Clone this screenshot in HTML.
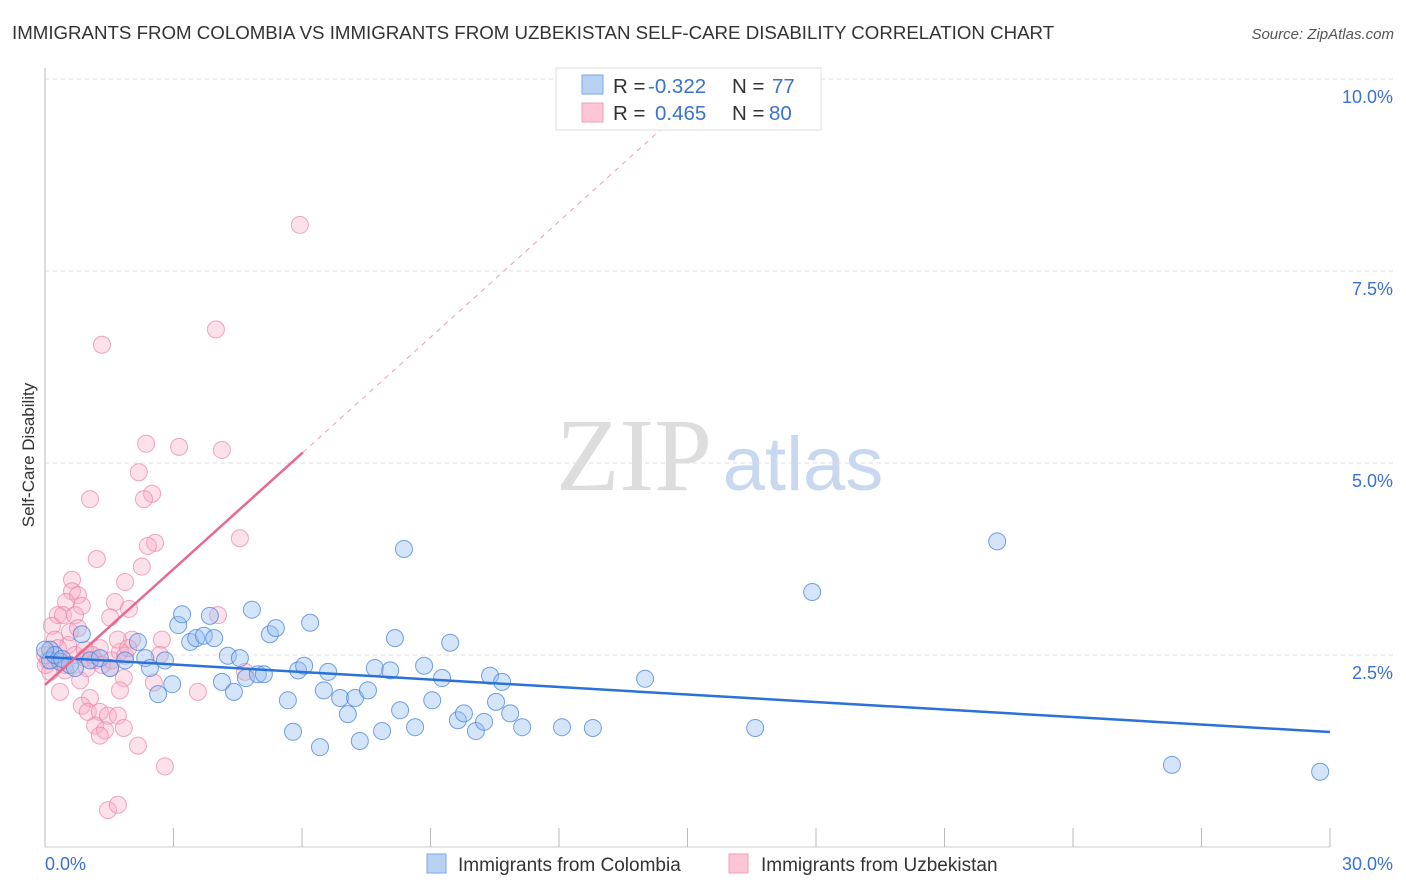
<!DOCTYPE html>
<html><head><meta charset="utf-8"><style>
body{margin:0;background:#fff;font-family:"Liberation Sans",sans-serif;}
svg{display:block}
</style></head><body>
<svg width="1406" height="892" viewBox="0 0 1406 892">
<text x="12" y="39" font-size="18.7" fill="#333">IMMIGRANTS FROM COLOMBIA VS IMMIGRANTS FROM UZBEKISTAN SELF-CARE DISABILITY CORRELATION CHART</text>
<text x="1394" y="39" font-size="15" fill="#555" font-style="italic" text-anchor="end">Source: ZipAtlas.com</text>
<g>
<text x="634" y="490" font-size="104" fill="#ddd" font-family="Liberation Serif,serif" text-anchor="middle">ZIP</text>
<text x="803" y="490" font-size="76" fill="#c8d8f0" text-anchor="middle">atlas</text>
</g>
<g id="grid"></g>
<g id="axes"></g>
<text transform="translate(34,455) rotate(-90)" font-size="17" fill="#333" text-anchor="middle">Self-Care Disability</text>
<g id="pts"></g>
<g id="lines"></g>
<g>
<rect x="556" y="68" width="265" height="62" fill="#fff" stroke="#ddd"/>
<rect x="582" y="75" width="21" height="19" fill="#b8d2f4" stroke="#7aa8e8"/>
<rect x="582" y="103" width="21" height="19" fill="#fcc6d6" stroke="#f0a0b8"/>
<text x="613" y="93" font-size="20.5" fill="#333">R = <tspan fill="#3a72d0" x="648">-0.322</tspan><tspan x="732">N = </tspan><tspan fill="#3a72d0" x="772">77</tspan></text>
<text x="613" y="120" font-size="20.5" fill="#333">R = <tspan fill="#3a72d0" x="655">0.465</tspan><tspan x="732">N = </tspan><tspan fill="#3a72d0" x="769">80</tspan></text>
</g>
<g>
<rect x="427" y="854" width="19" height="19" fill="#b8d2f4" stroke="#7aa8e8"/>
<text x="458" y="871" font-size="19" fill="#333">Immigrants from Colombia</text>
<rect x="729" y="854" width="19" height="19" fill="#fcc6d6" stroke="#f0a0b8"/>
<text x="761" y="871" font-size="19" fill="#333">Immigrants from Uzbekistan</text>
</g>
</svg>
<script>
const blueX=[0.86,0.12,0.35,0.58,1.05,1.28,1.52,1.87,2.17,2.34,2.45,2.64,2.80,2.97,3.11,3.20,3.39,3.53,3.71,3.85,3.95,4.13,4.27,4.41,4.55,4.69,4.83,4.97,5.11,5.25,5.39,5.67,5.79,5.91,6.05,6.19,6.42,6.51,6.61,6.89,7.07,7.24,7.35,7.54,7.70,7.87,8.06,8.17,8.29,8.38,8.64,8.85,9.04,9.27,9.46,9.64,9.78,10.06,10.25,10.39,10.53,10.67,10.86,11.14,12.07,12.79,14.01,16.58,17.91,22.23,26.31,29.77,0.12,0.23,0.0,0.70,0.40];
const blueY=[2.77,2.57,2.41,2.37,2.43,2.46,2.33,2.43,2.67,2.46,2.33,1.99,2.43,2.12,2.89,3.03,2.67,2.72,2.75,3.01,2.72,2.15,2.49,2.02,2.46,2.20,3.09,2.25,2.25,2.77,2.85,1.91,1.50,2.30,2.36,2.92,1.30,2.04,2.28,1.94,1.73,1.94,1.38,2.04,2.33,1.51,2.30,2.72,1.78,3.88,1.56,2.36,1.91,2.20,2.66,1.65,1.74,1.51,1.63,2.23,1.89,2.15,1.74,1.56,1.56,1.55,2.19,1.55,3.32,3.98,1.07,0.98,2.43,2.50,2.57,2.33,2.45];
const pinkX=[5.95,3.99,1.33,2.36,3.13,4.13,2.19,2.50,2.31,1.05,4.55,2.57,2.40,1.21,2.26,0.63,1.87,0.63,0.77,0.49,0.86,1.63,1.96,0.30,0.42,0.70,1.52,4.04,0.16,2.03,2.73,0.54,1.28,1.75,0.23,0.35,0.47,0.70,0.93,1.17,0.02,0.12,0.82,1.52,1.84,2.54,1.75,0.35,3.57,1.05,0.86,1.00,1.28,1.47,1.70,1.17,1.40,1.84,1.28,2.17,2.80,1.47,1.70,4.67,0.98,0.07,0.23,0.58,0.77,1.56,1.87,0.47,0.93,0.00,0.30,1.10,1.33,2.68,1.70,1.94];
const pinkY=[8.10,6.74,6.54,5.25,5.21,5.17,4.88,4.60,4.53,4.53,4.02,3.96,3.92,3.75,3.65,3.48,3.45,3.33,3.28,3.19,3.14,3.19,3.10,3.02,3.02,3.02,2.99,3.02,2.88,2.70,2.70,2.63,2.59,2.54,2.50,2.43,2.37,2.50,2.46,2.43,2.37,2.28,2.17,2.33,2.20,2.14,2.04,2.02,2.02,1.94,1.84,1.76,1.76,1.71,1.71,1.58,1.52,1.55,1.45,1.32,1.05,0.48,0.55,2.28,2.33,2.43,2.70,2.80,2.85,2.43,2.49,2.30,2.57,2.50,2.59,2.50,2.37,2.50,2.70,2.59];
const blueTrend=[2.474,1.497];
const pinkTrend=[2.11,0.503];
const yTicks=[2.5,5.0,7.5,10.0];
const xTickCount=10;
const NS="http://www.w3.org/2000/svg";
const X=v=>45+v*(1285/30), Y=v=>847-v*76.8;
function mk(tag,attrs,parent){const e=document.createElementNS(NS,tag);for(const k in attrs)e.setAttribute(k,attrs[k]);parent.appendChild(e);return e;}
const grid=document.getElementById('grid'),axes=document.getElementById('axes'),pts=document.getElementById('pts'),lines=document.getElementById('lines');
yTicks.forEach(t=>{
 const l=mk('line',{x1:45,x2:1394,y1:Y(t),y2:Y(t),stroke:'#ddd','stroke-dasharray':'4,4'},grid);
 
 
 const tx=mk('text',{x:1393,y:Y(t)+24,'font-size':18,fill:'#3a72d0','text-anchor':'end'},grid);
 tx.textContent=t.toFixed(1)+'%';
 
 
});
mk('line',{x1:45,x2:45,y1:68,y2:847,stroke:'#bbb'},axes);
mk('line',{x1:45,x2:1330,y1:847,y2:847,stroke:'#ccc'},axes);
for(let i=0;i<=xTickCount;i++){const x=X(i*3);mk('line',{x1:x,x2:x,y1:828,y2:847,stroke:'#bbb'},axes);}
const xl0=mk('text',{x:45,y:870,'font-size':18,fill:'#3a72d0'},axes);xl0.textContent='0.0%';


const xl1=mk('text',{x:1393,y:870,'font-size':18,fill:'#3a72d0','text-anchor':'end'},axes);xl1.textContent='30.0%';


pinkX.forEach((v,i)=>{const c=mk('circle',{cx:X(v),cy:Y(pinkY[i]),r:8.5,fill:'rgba(248,170,195,0.35)',stroke:'rgba(235,130,165,0.7)','stroke-width':1},pts);
 
 });
blueX.forEach((v,i)=>{const c=mk('circle',{cx:X(v),cy:Y(blueY[i]),r:8.5,fill:'rgba(150,190,240,0.4)',stroke:'rgba(70,130,220,0.75)','stroke-width':1},pts);
 
 });
const bl=mk('line',{x1:X(0),y1:Y(blueTrend[0]),x2:X(30),y2:Y(blueTrend[1]),stroke:'#2a72d8','stroke-width':2.5},lines);


const pEnd=6.02;
const pl=mk('line',{x1:X(0),y1:Y(pinkTrend[0]),x2:X(pEnd),y2:Y(pinkTrend[0]+pinkTrend[1]*pEnd),stroke:'#e86890','stroke-width':2.5},lines);


const xe=(10-pinkTrend[0])/pinkTrend[1];
const pd=mk('line',{x1:X(pEnd),y1:Y(pinkTrend[0]+pinkTrend[1]*pEnd),x2:X(xe),y2:Y(10),stroke:'#e8a0b8','stroke-width':1,'stroke-dasharray':'5,5'},lines);


</script>
</body></html>
